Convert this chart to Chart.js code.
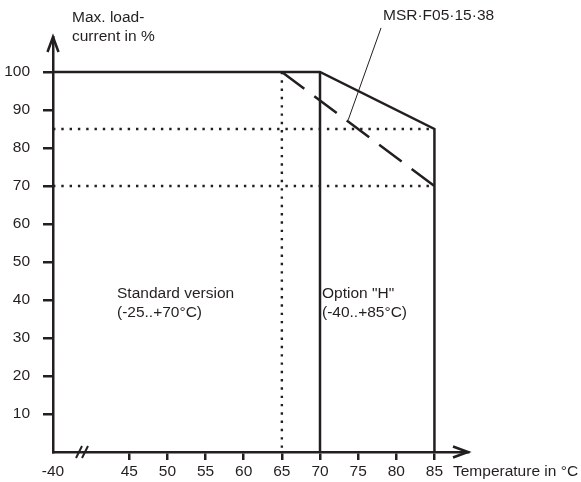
<!DOCTYPE html>
<html>
<head>
<meta charset="utf-8">
<script src="https://cdn.jsdelivr.net/npm/chart.js@4.4.1/dist/chart.umd.min.js"></script>
<style>
  body { margin: 0; background: #fff; }
</style>
</head>
<body>
<canvas id="deratingChart" width="581" height="482"></canvas>
<script>
const INK = '#231f20';
const FONT = '"Liberation Sans", Arial, sans-serif';

// axis ticks (x starts at a break: the first position is labelled -40)
const xTicks = [35, 45, 50, 55, 60, 65, 70, 75, 80, 85];
const xTickLabels = ['-40', '45', '50', '55', '60', '65', '70', '75', '80', '85'];
const yTicks = [10, 20, 30, 40, 50, 60, 70, 80, 90, 100];

// option "H" derating curve
const optionHTemp = [35, 70, 85, 85];
const optionHLoad = [100, 100, 85, 0];
// standard version limit
const standardTemp = [70, 70];
const standardLoad = [100, 0];
// dashed derating
const dashTemp = [65, 85];
const dashLoad = [100, 70];
// dotted guides
const guide85Temp = [35, 85];
const guide85Load = [85, 85];
const guide70Temp = [35, 85];
const guide70Load = [70, 70];
const guide65Temp = [65, 65];
const guide65Load = [100, 0];
// leader line to the drawing number
const leaderTemp = [73.7, 78];
const leaderLoad = [87.4, 111.6];

const pts = (xs, ys) => xs.map((x, i) => ({x: x, y: ys[i]}));

const solid = {borderColor: INK, borderWidth: 2.5, pointRadius: 0, showLine: true, fill: false};
const dotted = {borderColor: INK, borderWidth: 2.4, borderDash: [2.4, 5.9], pointRadius: 0, showLine: true};

const datasets = [
  Object.assign({data: pts(optionHTemp, optionHLoad)}, solid),
  Object.assign({data: pts(standardTemp, standardLoad)}, solid),
  Object.assign({data: pts(dashTemp, dashLoad)}, solid, {borderDash: [28, 12.5]}),
  Object.assign({data: pts(guide85Temp, guide85Load)}, dotted),
  Object.assign({data: pts(guide70Temp, guide70Load)}, dotted),
  Object.assign({data: pts(guide65Temp, guide65Load)}, dotted),
  {data: pts(leaderTemp, leaderLoad), borderColor: INK, borderWidth: 1, pointRadius: 0, showLine: true, clip: false}
];

// arrows, axis break and the free texts
const decorations = {
  id: 'decorations',
  afterDraw(chart) {
    const ctx = chart.ctx;
    const a = chart.chartArea;
    ctx.save();
    ctx.strokeStyle = INK;
    ctx.lineWidth = 2.5;
    ctx.lineJoin = 'miter';
    // y arrow
    ctx.beginPath();
    ctx.moveTo(a.left - 5.5, a.top + 15);
    ctx.lineTo(a.left, a.top);
    ctx.lineTo(a.left + 5.5, a.top + 15);
    ctx.stroke();
    // x arrow
    ctx.beginPath();
    ctx.moveTo(a.right - 15, a.bottom - 5.5);
    ctx.lineTo(a.right, a.bottom);
    ctx.lineTo(a.right - 15, a.bottom + 5.5);
    ctx.stroke();
    // axis break //
    const bx = chart.scales.x.getPixelForValue(38.8);
    ctx.lineWidth = 2;
    [-3, 3].forEach(function(d) {
      ctx.beginPath();
      ctx.moveTo(bx + d - 3, a.bottom + 6);
      ctx.lineTo(bx + d + 3, a.bottom - 6);
      ctx.stroke();
    });
    // texts
    ctx.fillStyle = INK;
    ctx.font = '15.5px ' + FONT;
    ctx.textBaseline = 'middle';
    ctx.textAlign = 'left';
    ctx.fillText('Max. load-', 72, 18);
    ctx.fillText('current in %', 72, 37);
    ctx.fillText('MSR\u00b7F05\u00b715\u00b738', 383, 16);
    ctx.fillText('Standard version', 117, 294);
    ctx.fillText('(-25..+70\u00b0C)', 117, 313);
    ctx.fillText('Option "H"', 322, 294);
    ctx.fillText('(-40..+85\u00b0C)', 322, 313);
    ctx.fillText('Temperature in \u00b0C', 453, 472);
    ctx.restore();
  }
};

const tickColor = ctx => (ctx.tick && ctx.tick.value === 35) ? 'rgba(0,0,0,0)' : INK;

const config = {
  type: 'scatter',
  data: {datasets: datasets},
  options: {
    responsive: false,
    animation: false,
    layout: {padding: {left: 0, top: 37, right: 113, bottom: 0}},
    plugins: {legend: {display: false}, tooltip: {enabled: false}},
    scales: {
      x: {
        type: 'linear',
        min: 35,
        max: 89.4,
        afterBuildTicks: s => { s.ticks = xTicks.map(v => ({value: v})); },
        afterFit: s => { s.height = 30; },
        ticks: {
          color: INK,
          font: {family: FONT, size: 15.5},
          padding: 2,
          maxRotation: 0,
          autoSkip: false,
          callback: v => xTickLabels[xTicks.indexOf(v)]
        },
        grid: {drawOnChartArea: false, drawTicks: true, tickLength: 8, lineWidth: 2.5, color: tickColor},
        border: {display: true, color: INK, width: 2.5}
      },
      y: {
        type: 'linear',
        min: 0,
        max: 109.2,
        afterBuildTicks: s => { s.ticks = yTicks.map(v => ({value: v})); },
        afterFit: s => { s.width = 53; },
        ticks: {
          color: INK,
          font: {family: FONT, size: 15.5},
          padding: 13,
          autoSkip: false
        },
        grid: {drawOnChartArea: false, drawTicks: true, tickLength: 10, lineWidth: 2.5, color: INK},
        border: {display: true, color: INK, width: 2.5}
      }
    }
  },
  plugins: [decorations]
};

const deratingChart = new Chart(document.getElementById('deratingChart'), config);
</script>
</body>
</html>
